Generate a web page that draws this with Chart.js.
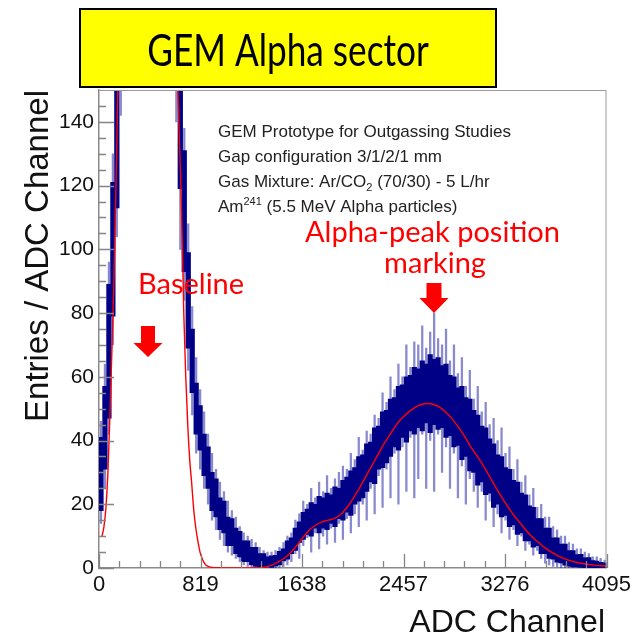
<!DOCTYPE html>
<html>
<head>
<meta charset="utf-8">
<script src="https://cdn.jsdelivr.net/npm/chart.js@4.4.0/dist/chart.umd.min.js"></script>
<style>
  html, body { margin: 0; padding: 0; background: #fff; }
  #wrap { width: 635px; height: 638px; }
</style>
</head>
<body>
<div id="wrap"><canvas id="myChart"></canvas></div>
<script>
const ctx = document.getElementById("myChart").getContext("2d");

// histogram: 128 bins of 32 ADC channels, 0..4095
const binWidth = 32;
// dense part of the spectrum (dark band), low / high edge per bin
// bins 6..18 hold the pedestal, far above the visible range
const coreLow = [
  18, 31, 47, 79, 113, 152, 400, 400, 400, 400, 400, 400, 400, 400, 400, 400,
  400, 400, 400, 151, 119, 93, 69, 55, 42, 37, 29, 25, 18, 16, 12, 11,
  7, 7, 4.5, 3.5, 2, 2, 1, 0.5, 0.4, 0.2, 0.3, 0.2, 0.6, 1, 2.2, 2.8,
  4.5, 5.5, 8, 9, 10.5, 10, 12.5, 11, 12.5, 12, 14, 13, 15.5, 15, 17.5, 16.5,
  20, 21, 22, 24, 27, 26.5, 31, 31.5, 33, 35, 38, 37, 41, 39.5, 43, 42,
  44, 43, 45.5, 42.5, 45, 43.5, 44, 41, 41.5, 38, 38.5, 34, 35, 30.5, 30, 26,
  27, 23, 23.5, 19, 20, 16, 16.5, 13, 13.5, 10.5, 11, 8.5, 8.5, 6.5, 7, 4.5,
  4.5, 3, 2.8, 1.8, 1.6, 0.9, 0.6, 0.3, 0.3, 0.2, 0.1, 0.1, 0, 0, 0, 0
];
const coreHigh = [
  41, 57, 89, 121, 159, 240, 700, 700, 700, 700, 700, 700, 700, 700, 700, 700,
  700, 700, 700, 240, 164, 131, 99, 75, 58, 51, 42, 38, 30, 28, 22, 21,
  16, 15.5, 12.5, 11.5, 8.5, 8.5, 6.5, 6.5, 4.5, 4.5, 3.5, 3.8, 4, 5.2, 6, 8.5,
  9.5, 12.5, 14.5, 17.5, 18.5, 20.5, 20, 22.5, 22, 23.5, 23, 25.5, 25, 27.5, 28.5, 30.5,
  31.5, 35, 35.5, 39, 39.5, 44, 44.5, 49, 49.5, 53, 53.5, 57, 57.5, 60, 60.5, 63,
  62.5, 65, 64, 67, 65.5, 66, 63.5, 64, 60.5, 60, 56.5, 57, 53.5, 53, 49.5, 48,
  44.5, 44, 40.5, 39, 35.5, 35, 31.5, 31, 27.5, 27, 23.5, 23, 19.5, 19, 15.5, 15.5,
  12.5, 12.5, 9.5, 9.5, 7.5, 7.5, 5.5, 5.5, 4.2, 4.3, 3.2, 3.3, 2.3, 2.2, 1.8, 1.6
];
// full spread of the error bars per bin
const errLow = [
  14, 25, 42, 70, 104, 142, 380, 380, 380, 380, 380, 380, 380, 380, 380, 380,
  380, 380, 380, 140, 100, 84, 62, 48, 36, 31, 25, 20, 15, 12, 9, 7,
  5, 4, 3, 2, 1, 0.5, 0, 0, 0, 0, 0, 0, 0, 0, 0.5, 1,
  2, 4.5, 3, 7, 9.5, 5, 11, 6, 10, 7.5, 12.5, 8, 14, 9, 15.5, 11,
  17, 13, 20, 15, 25, 17, 29, 19, 31, 22, 36, 20, 38, 24, 41, 22,
  28, 42, 25, 40, 24, 42, 30, 38, 25, 36, 22, 32, 20, 28, 24, 19,
  24, 15, 21, 13, 17, 11, 15, 9, 12, 7, 10, 5.5, 7.5, 4, 5.5, 3,
  1.5, 1, 0.5, 0.3, 0, 0, 0, 0, 0, 0, 0, 0, 0, 0, 0, 0
];
const errHigh = [
  46, 64, 96, 130, 166, 250, 800, 800, 800, 800, 800, 800, 800, 800, 800, 800,
  800, 800, 800, 250, 175, 138, 108, 82, 66, 56, 49, 42, 36, 31, 27, 24,
  21, 18, 16, 13, 11, 10, 9, 8, 6.5, 5.5, 5, 5, 5.5, 6.5, 8, 10,
  11, 15, 17, 21, 20, 25, 22, 27, 24, 29, 25, 28, 30, 32, 31, 36,
  34, 41, 37, 43, 42, 48, 47, 55, 52, 60, 56, 64, 60, 70, 63, 71,
  70, 76, 69, 74, 80, 72, 70, 75, 65, 70, 61, 66, 57, 62, 53, 57,
  49, 52, 45, 47, 40, 44, 36, 38, 31, 34, 27, 29, 23, 25, 19, 20,
  16, 16, 13, 12, 10, 10, 8, 7.5, 6, 6, 5, 4.5, 3.5, 3.5, 3, 2.5
];

// fit function (red), sampled; null = off scale (pedestal top)
const fitChannels = [
  24, 40, 56, 72, 88, 104, 120, 136, 152, 168, 184, 400,
  600, 620, 635, 650, 662, 673, 684, 700, 716, 732, 747, 765, 783, 800, 815, 832, 848, 864, 880, 912, 960,
  1100, 1250, 1300, 1350, 1400, 1450, 1500, 1550, 1600, 1650, 1700, 1750, 1800, 1850, 1900, 1950,
  2000, 2050, 2100, 2150, 2200, 2250, 2300, 2350, 2400, 2450, 2500, 2550, 2600, 2650, 2700, 2750,
  2800, 2850, 2900, 2950, 3000, 3050, 3100, 3150, 3200, 3250, 3300, 3350, 3400, 3450, 3500, 3550,
  3600, 3650, 3700, 3750, 3800, 3850, 3900, 3950, 4000, 4050, 4095
];
const fitValues = [
  10, 13, 19, 30, 48, 68, 90, 118, 150, 185, 225, null,
  240, 185, 152, 133, 118, 100, 80, 60, 45, 34, 27, 18, 12, 8, 5, 3, 1.7, 0.9, 0.5, 0.2, 0.1,
  0, 0, 0.1, 0.4, 1.0, 2.0, 3.2, 5.0, 7.2, 9.8, 12.0, 13.5, 14.5, 15.0, 15.6, 16.8,
  19.0, 21.8, 25, 28.5, 32, 35.5, 39, 42, 45, 47.2, 49, 50.4, 51.3, 51.6, 51.3, 50.4,
  48.8, 46.8, 44.2, 41.3, 38, 35.2, 32.2, 28.8, 25.4, 22.2, 19.2, 16.4, 14, 11.6, 9.6, 7.9,
  6.3, 5.0, 3.9, 3.0, 2.3, 1.8, 1.4, 1.1, 0.9, 0.7, 0.6
];

const xTickValues = [0, 819, 1638, 2457, 3276, 4095];
const yTickValues = [0, 20, 40, 60, 80, 100, 120, 140];

const titleText = "GEM Alpha sector";
const xTitle = "ADC Channel";
const yTitle = "Entries / ADC Channel";
const infoLines = [
  ["GEM Prototype for Outgassing Studies"],
  ["Gap configuration 3/1/2/1 mm"],
  ["Gas Mixture: Ar/CO", "2", " (70/30) - 5 L/hr"],
  ["Am", "241", " (5.5 MeV Alpha particles)"]
];

const coreBars = coreLow.map((lo, i) => ({ x: i * binWidth + binWidth / 2, y: [lo, coreHigh[i]] }));
const errBars = errLow.map((lo, i) => ({ x: i * binWidth + binWidth / 2, y: [lo, errHigh[i]] }));
const fitPoints = fitChannels.map((ch, i) => ({ x: ch, y: fitValues[i] }));

function arrow(c, cx, top, shaftW, headW, shaftLen, headLen) {
  c.beginPath();
  c.moveTo(cx - shaftW / 2, top);
  c.lineTo(cx + shaftW / 2, top);
  c.lineTo(cx + shaftW / 2, top + shaftLen);
  c.lineTo(cx + headW / 2, top + shaftLen);
  c.lineTo(cx, top + shaftLen + headLen);
  c.lineTo(cx - headW / 2, top + shaftLen);
  c.lineTo(cx - shaftW / 2, top + shaftLen);
  c.closePath();
  c.fill();
}

const decorations = {
  id: "decorations",
  beforeDraw(chart) {
    const c = chart.ctx;
    c.save();
    c.fillStyle = "#fff";
    c.fillRect(0, 0, chart.width, chart.height);
    // title banner
    c.fillStyle = "#ffff00";
    c.fillRect(80, 9, 416, 78);
    c.strokeStyle = "#000";
    c.lineWidth = 2;
    c.strokeRect(80, 9, 416, 78);
    c.fillStyle = "#000";
    c.font = "44px Lato";
    c.textAlign = "center";
    c.textBaseline = "alphabetic";
    // narrow the face a bit, the banner uses a condensed sans
    c.translate(288, 66);
    c.scale(0.8, 1);
    c.fillText(titleText, 0, 0);
    c.restore();
  },
  afterDraw(chart) {
    const c = chart.ctx;
    const a = chart.chartArea;
    const x = chart.scales.x;
    const y = chart.scales.y;
    c.save();

    // frame
    c.strokeStyle = "#9a9a9a";
    c.lineWidth = 1;
    c.beginPath();
    c.moveTo(a.left, a.top + 0.5);
    c.lineTo(a.right - 0.5, a.top + 0.5);
    c.lineTo(a.right - 0.5, a.bottom);
    c.stroke();

    // inward ticks, 5 divisions on x, 4 on y
    c.strokeStyle = "#858585";
    c.lineWidth = 1.3;
    c.beginPath();
    for (let k = 0; k <= 25; k++) {
      const px = Math.round(x.getPixelForValue(k * 163.8)) + 0.5;
      const len = k % 5 === 0 ? 14 : 7;
      c.moveTo(px, a.bottom);
      c.lineTo(px, a.bottom - len);
    }
    for (let k = 0; k <= 29; k++) {
      const py = Math.round(y.getPixelForValue(k * 5)) + 0.5;
      const len = k % 4 === 0 ? 15 : 7;
      c.moveTo(a.left, py);
      c.lineTo(a.left + len, py);
    }
    c.stroke();

    // axis titles
    c.fillStyle = "#111";
    c.font = "32px 'Liberation Sans'";
    c.textAlign = "right";
    c.textBaseline = "alphabetic";
    c.fillText(xTitle, 605, 632);
    c.save();
    c.translate(48, 90);
    c.rotate(-Math.PI / 2);
    c.font = "33px 'Liberation Sans'";
    c.fillText(yTitle, 0, 0);
    c.restore();

    // info block
    c.textAlign = "left";
    c.fillStyle = "#222";
    infoLines.forEach((parts, i) => {
      let px = 218;
      const base = 137 + i * 25;
      parts.forEach((t, j) => {
        let dy = 0;
        if (j === 1) {
          c.font = "11px 'Liberation Sans'";
          dy = i === 2 ? 4 : -7;
        } else {
          c.font = "17px 'Liberation Sans'";
        }
        c.fillText(t, px, base + dy);
        px += c.measureText(t).width;
      });
    });

    // red annotations
    c.fillStyle = "#ff0000";
    c.font = "29px Lato";
    c.textAlign = "left";
    c.fillText("Alpha-peak position", 305, 242);
    c.fillText("Baseline", 138, 294);
    c.textAlign = "center";
    c.fillText("marking", 435, 273);
    arrow(c, 148, 326, 14, 29, 17, 14);
    arrow(c, 434, 283, 15, 29, 15, 15);

    c.restore();
  }
};

const config = {
  type: "bar",
  data: {
    datasets: [
      {
        type: "line",
        label: "Fit",
        data: fitPoints,
        borderColor: "#ff0000",
        borderWidth: 1.4,
        pointRadius: 0,
        cubicInterpolationMode: "monotone",
        spanGaps: false,
        clip: 0,
        order: 0,
      },
      {
        label: "Entries",
        data: coreBars,
        backgroundColor: "rgb(0,0,135)",
        barThickness: 4.6,
        grouped: false,
        clip: 0,
        order: 1,
      },
      {
        label: "Errors",
        data: errBars,
        backgroundColor: "rgba(40,40,170,0.55)",
        barThickness: 1.6,
        grouped: false,
        clip: 0,
        order: 2,
      },
    ],
  },
  options: {
    responsive: true,
    maintainAspectRatio: false,
    animation: false,
    layout: { padding: { top: 90, right: 28, left: 0, bottom: 0 } },
    plugins: {
      legend: { display: false },
      tooltip: { enabled: false },
    },
    scales: {
      x: {
        type: "linear",
        min: 0,
        max: 4095,
        offset: false,
        afterFit: (s) => { s.height = 70; },
        afterBuildTicks: (s) => { s.ticks = xTickValues.map((v) => ({ value: v })); },
        grid: { display: false, drawTicks: false },
        border: { display: true, color: "#8a8a8a", width: 1.5 },
        ticks: {
          padding: 4,
          maxRotation: 0,
          autoSkip: false,
          color: "#111",
          font: { family: "Liberation Sans", size: 22 },
          callback: (v) => String(v),
        },
      },
      y: {
        min: 0,
        max: 150,
        afterFit: (s) => { s.width = 99; },
        afterBuildTicks: (s) => { s.ticks = yTickValues.map((v) => ({ value: v })); },
        grid: { display: false, drawTicks: false },
        border: { display: true, color: "#8a8a8a", width: 1.5 },
        ticks: {
          padding: 5,
          color: "#111",
          font: { family: "Liberation Sans", size: 21 },
          callback: (v) => String(v),
        },
      },
    },
  },
  plugins: [decorations],
};

const myChart = new Chart(ctx, config);
</script>
</body>
</html>
